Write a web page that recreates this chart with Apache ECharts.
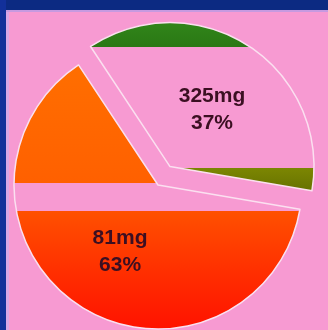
<!DOCTYPE html>
<html lang="en">
  <head>
    <meta charset="UTF-8" />
    <title>pie</title>
    <script src="https://cdn.jsdelivr.net/npm/echarts@6/dist/echarts.min.js"></script>
    <style>
      html, body { margin: 0; padding: 0; background: #f79ad2; }
    </style>
  </head>
  <body>
    <div id="main" style="width: 328px; height: 330px"></div>

    <script>
      // 两个扇区：右侧（弹出）和左侧
      const names = ['A', 'B']
      const values = [37, 63] // 扇区大小（百分比）
      const doses = ['325mg', '81mg']
      const percents = ['37%', '63%']

      const H = 330
      const y = v => v / H // 像素 -> 渐变偏移

      // 右侧扇区：上绿下橄榄，中间粉色（坐标随弹出偏移一起移动，所以 +18）
      const rightColor = new echarts.graphic.LinearGradient(0, 0, 0, H, [
        { offset: 0, color: '#3d9c24' },
        { offset: y(65), color: '#2a7814' },
        { offset: y(65.5), color: '#f79ad2' },
        { offset: y(186), color: '#f79ad2' },
        { offset: y(186.5), color: '#7c8602' },
        { offset: y(212), color: '#647000' },
        { offset: 1, color: '#647000' },
      ], true)

      // 左侧扇区：橙色，粉色带，红色
      const leftColor = new echarts.graphic.LinearGradient(0, 0, 0, H, [
        { offset: 0, color: '#ff7200' },
        { offset: y(68), color: '#ff6e00' },
        { offset: y(183), color: '#ff6000' },
        { offset: y(183.5), color: '#f79ad2' },
        { offset: y(211), color: '#f79ad2' },
        { offset: y(211.5), color: '#ff5000' },
        { offset: y(270), color: '#ff3000' },
        { offset: 1, color: '#ff1200' },
      ], true)

      const myChart = echarts.init(document.getElementById('main'))

      const options = {
        backgroundColor: '#f79ad2',
        animation: false,
        graphic: [
          // 深蓝色边框（上、左）
          { type: 'rect', shape: { x: 0, y: 0, width: 328, height: 10 }, style: { fill: '#0c2a82' } },
          { type: 'rect', shape: { x: 0, y: 0, width: 6, height: 330 }, style: { fill: '#12309a' } },
          { type: 'rect', shape: { x: 6, y: 10, width: 322, height: 2 }, style: { fill: '#c69ae0' } },
          { type: 'rect', shape: { x: 6, y: 12, width: 3, height: 318 }, style: { fill: '#d8a6e6' } },
        ],
        series: [
          {
            type: 'pie',
            center: [158, 185],
            radius: 144,
            startAngle: 123.5,
            clockwise: true,
            selectedMode: 'single',
            selectedOffset: 22,
            emphasis: { disabled: true },
            itemStyle: {
              borderColor: '#fbe0f0',
              borderWidth: 1.5,
            },
            label: {
              position: 'inside',
              color: '#3b0f22',
              fontFamily: 'Liberation Sans, Arial, sans-serif',
              fontWeight: 'bold',
              fontSize: 21,
              lineHeight: 27,
              formatter: p => doses[p.dataIndex] + '\n' + percents[p.dataIndex],
            },
            labelLine: { show: false },
            // 标签微调位置
            labelLayout: p => (p.dataIndex === 0 ? { dx: 1, dy: 6 } : { dx: 3, dy: 4 }),
            data: [
              { name: names[0], value: values[0], selected: true, itemStyle: { color: rightColor } },
              { name: names[1], value: values[1], itemStyle: { color: leftColor } },
            ],
          },
        ],
      }

      myChart.setOption(options)
    </script>
  </body>
</html>
